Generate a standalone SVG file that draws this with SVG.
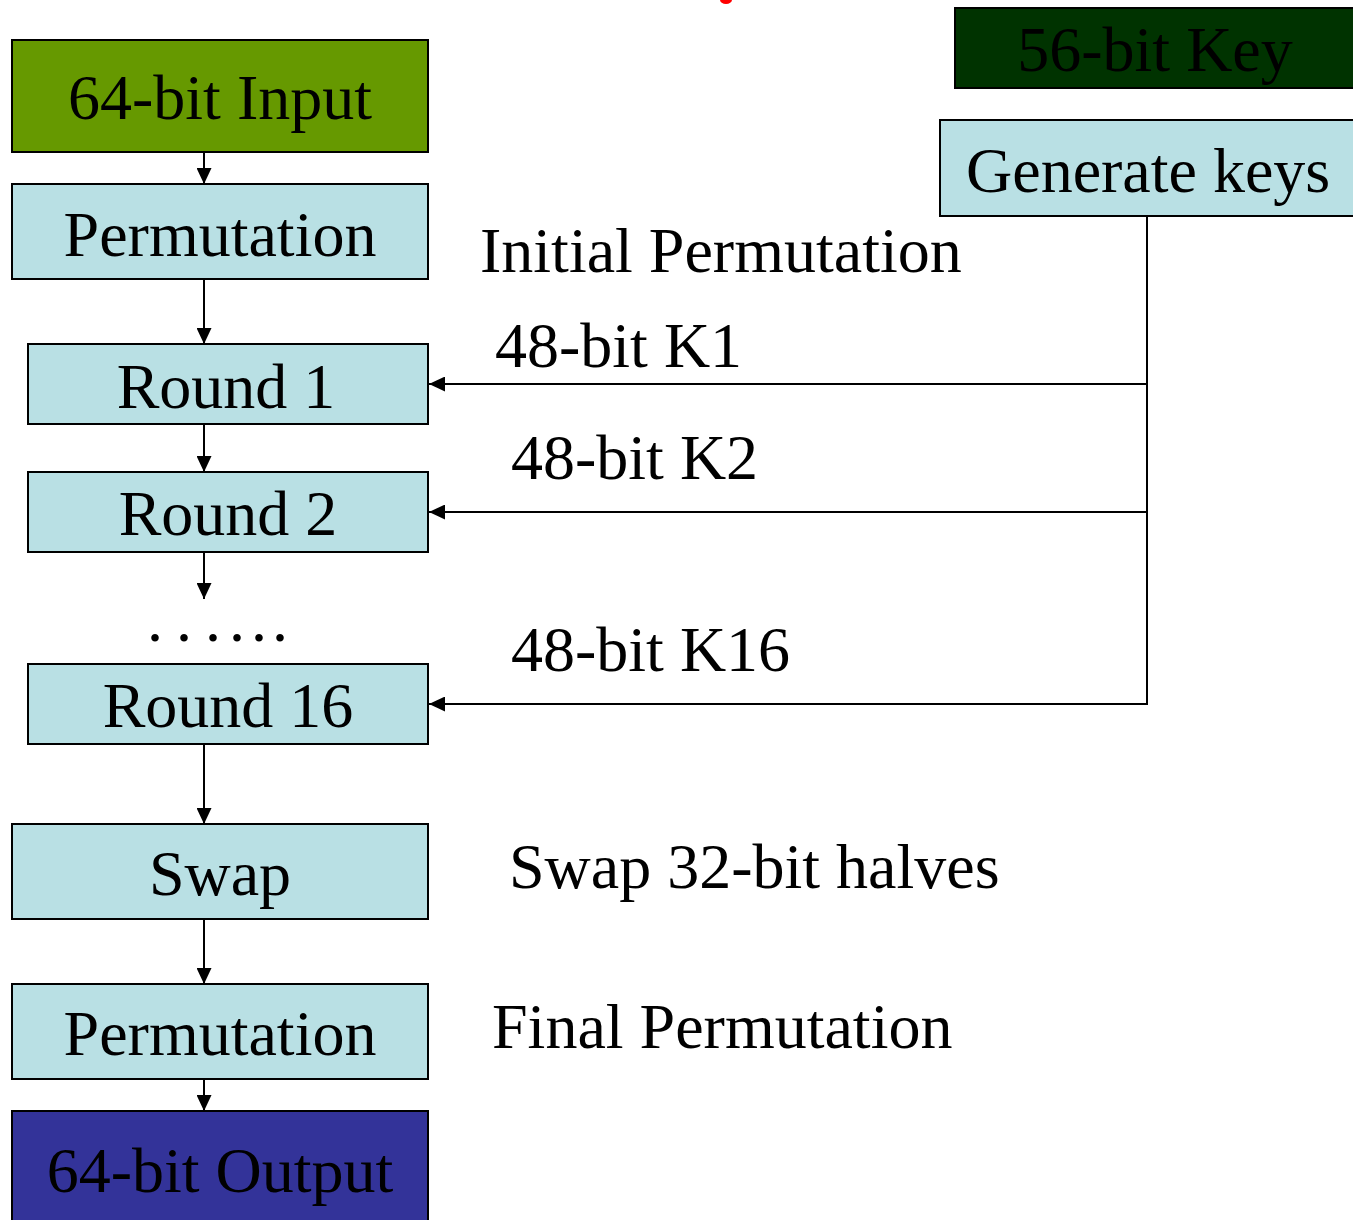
<svg xmlns="http://www.w3.org/2000/svg" width="1353" height="1220" viewBox="0 0 1353 1220">
  <style>
    .box { stroke: #000; stroke-width: 2; }
    .step { fill: #B9E0E4; }
    .lbl { font-family: "Liberation Serif", "Times New Roman", serif; font-size: 64px; fill: #000; }
    .mid { text-anchor: middle; }
    .wire { fill: none; stroke: #000; stroke-width: 2; }
  </style>
  <defs>
    <marker id="arrow" markerUnits="userSpaceOnUse" markerWidth="16" markerHeight="15" viewBox="0 0 16 15" refX="16" refY="7.5" orient="auto">
      <path d="M0,0 L16,7.5 L0,15 Z" fill="#000"/>
    </marker>
  </defs>

  <rect width="1353" height="1220" fill="#fff"/>

  <!-- edge of the heading glyph above the frame -->
  <ellipse cx="726" cy="0" rx="6" ry="4" fill="#f00"/>

  <!-- connectors -->
  <g id="connectors">
    <line class="wire" x1="204" y1="152" x2="204" y2="184" marker-end="url(#arrow)"/>
    <line class="wire" x1="204" y1="280" x2="204" y2="344" marker-end="url(#arrow)"/>
    <line class="wire" x1="204" y1="424" x2="204" y2="472" marker-end="url(#arrow)"/>
    <line class="wire" x1="204" y1="552" x2="204" y2="599" marker-end="url(#arrow)"/>
    <line class="wire" x1="204" y1="744" x2="204" y2="824" marker-end="url(#arrow)"/>
    <line class="wire" x1="204" y1="919" x2="204" y2="984" marker-end="url(#arrow)"/>
    <line class="wire" x1="204" y1="1079" x2="204" y2="1111" marker-end="url(#arrow)"/>
    <!-- key schedule feed -->
    <line class="wire" x1="1147" y1="216" x2="1147" y2="705" stroke-width="3"/>
    <line class="wire" x1="1148" y1="384" x2="429" y2="384" marker-end="url(#arrow)"/>
    <line class="wire" x1="1148" y1="512" x2="429" y2="512" marker-end="url(#arrow)"/>
    <line class="wire" x1="1148" y1="704" x2="429" y2="704" marker-end="url(#arrow)"/>
  </g>

  <!-- left column -->
  <g id="input">
    <rect class="box" x="12" y="40" width="416" height="112" fill="#669900"/>
    <text class="lbl mid" x="220" y="119">64-bit Input</text>
  </g>
  <g id="initial-permutation">
    <rect class="box step" x="12" y="184" width="416" height="95"/>
    <text class="lbl mid" x="220" y="256">Permutation</text>
  </g>
  <g id="round1">
    <rect class="box step" x="28" y="344" width="400" height="80"/>
    <text class="lbl mid" x="226" y="408">Round 1</text>
  </g>
  <g id="round2">
    <rect class="box step" x="28" y="472" width="400" height="80"/>
    <text class="lbl mid" x="228" y="535">Round 2</text>
  </g>
  <g id="ellipsis">
    <text class="lbl" font-size="84" x="147 176 205 229 251 272" y="641">......</text>
  </g>
  <g id="round16">
    <rect class="box step" x="28" y="664" width="400" height="80"/>
    <text class="lbl mid" x="228" y="727">Round 16</text>
  </g>
  <g id="swap">
    <rect class="box step" x="12" y="824" width="416" height="95"/>
    <text class="lbl mid" x="220" y="895">Swap</text>
  </g>
  <g id="final-permutation">
    <rect class="box step" x="12" y="984" width="416" height="95"/>
    <text class="lbl mid" x="220" y="1055">Permutation</text>
  </g>
  <g id="output">
    <rect class="box" x="12" y="1111" width="416" height="130" fill="#333399"/>
    <text class="lbl mid" x="220" y="1192">64-bit Output</text>
  </g>

  <!-- key schedule -->
  <g id="key">
    <rect class="box" x="955" y="8" width="410" height="80" fill="#003300"/>
    <text class="lbl mid" x="1155" y="71">56-bit Key</text>
  </g>
  <g id="generate-keys">
    <rect class="box step" x="940" y="120" width="425" height="96"/>
    <text class="lbl" x="966" y="192">Generate keys</text>
  </g>

  <!-- annotations -->
  <g id="notes">
    <text class="lbl" x="480" y="272">Initial Permutation</text>
    <text class="lbl" x="495" y="367">48-bit K1</text>
    <text class="lbl" x="511" y="479">48-bit K2</text>
    <text class="lbl" x="511" y="671">48-bit K16</text>
    <text class="lbl" x="509" y="888">Swap 32-bit halves</text>
    <text class="lbl" x="492" y="1048">Final Permutation</text>
  </g>
</svg>
